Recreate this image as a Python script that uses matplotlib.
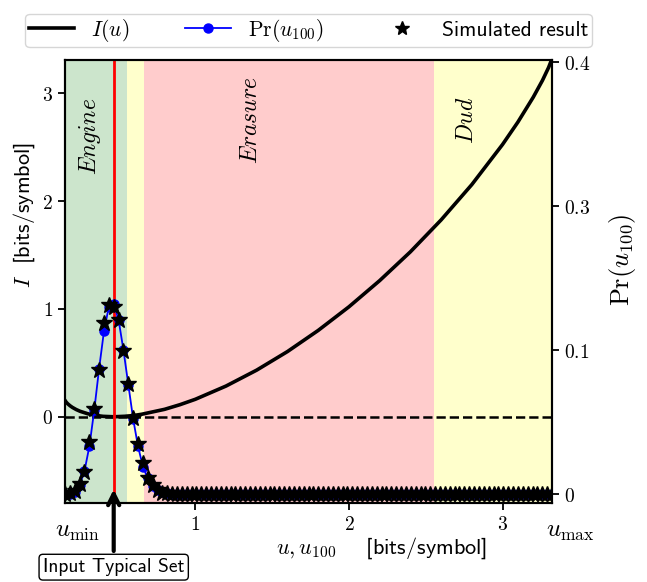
import numpy as np
import matplotlib
matplotlib.use("Agg")
import matplotlib.pyplot as plt
from matplotlib.lines import Line2D
from matplotlib.ticker import FixedLocator, FixedFormatter

plt.rcParams['mathtext.fontset'] = 'cm'
SANS = 'cmss10'

# range of u (bits/symbol) and the entropy marker
u_min = 0.152
u_max = 3.322
u_H = 0.469

# region borders along u
engine_end = 0.555
gap_end = 0.663
erasure_end = 2.553

# I(u)
u_curve = [0.152, 0.16, 0.17, 0.185, 0.2, 0.225, 0.25, 0.3, 0.35, 0.4, 0.469,
           0.55, 0.6, 0.65, 0.8, 0.9, 1.0, 1.2, 1.4, 1.6, 1.8, 2.0, 2.2, 2.4,
           2.6, 2.8, 3.0, 3.1, 3.2, 3.26, 3.3, 3.322]
I_curve = [0.152, 0.135, 0.120, 0.102, 0.087, 0.067, 0.051, 0.028, 0.013, 0.004, 0.0,
           0.005, 0.012, 0.023, 0.069, 0.112, 0.162, 0.285, 0.433, 0.605, 0.801, 1.020,
           1.263, 1.530, 1.826, 2.154, 2.526, 2.734, 2.965, 3.121, 3.241, 3.322]

# Pr(u_100): 101 evenly spaced values of u_100, only the first ones are non-zero
n_pts = 101
pr_head = [0.0, 0.0003, 0.0016, 0.006, 0.016, 0.033, 0.058, 0.087, 0.113, 0.130, 0.132,
           0.121, 0.100, 0.076, 0.052, 0.033, 0.019, 0.011, 0.0055, 0.0026, 0.0012,
           0.0005, 0.0002]
sim_head = [0.0, 0.001, 0.002, 0.007, 0.015, 0.036, 0.059, 0.086, 0.119, 0.131, 0.130,
            0.121, 0.0995, 0.0764, 0.0526, 0.0347, 0.0213, 0.0109, 0.006, 0.003, 0.001,
            0.0005, 0.0]

u100 = np.linspace(u_min, u_max, n_pts)
pr = pr_head + [0.0] * (n_pts - len(pr_head))
sim = sim_head + [0.0] * (n_pts - len(sim_head))

# right axis tick positions and the labels printed on them
pr_ticks = [0.0, 0.1, 0.2, 0.3]
pr_ticklabels = ['$0$', '$0.1$', '$0.3$', '$0.4$']

fig = plt.figure(figsize=(6.47, 5.82), dpi=100)
ax = fig.add_axes([65/647, 79/582, 487/647, 443/582])
ax2 = ax.twinx()

ax.axvspan(u_min, engine_end, color='g', alpha=0.2, lw=0)
ax.axvspan(engine_end, gap_end, color='yellow', alpha=0.2, lw=0)
ax.axvspan(gap_end, erasure_end, color='red', alpha=0.2, lw=0)
ax.axvspan(erasure_end, u_max, color='yellow', alpha=0.2, lw=0)

ax.plot(u_curve, I_curve, color='black', lw=2.6)
ax.axhline(0, color='black', lw=1.8, ls='--')
ax.axvline(u_H, color='red', lw=2)

ax.text(0.316, 2.6, '$Engine$', rotation=90, fontsize=17, ha='center', va='center')
ax.text(1.358, 2.75, '$Erasure$', rotation=90, fontsize=17, ha='center', va='center')
ax.text(2.759, 2.75, '$Dud$', rotation=90, fontsize=17, ha='center', va='center')

ax2.plot(u100, pr, color='blue', lw=1.3, marker='o', ms=6.5)
ax2.plot(u100, sim, ls='none', marker='*', color='black', ms=12)

ax.set_xlim(u_min, u_max)
ax.set_ylim(-0.80, 3.31)
ax2.set_ylim(-0.00625, 0.3014)

ax.xaxis.set_major_locator(FixedLocator([1, 2, 3]))
ax.xaxis.set_major_formatter(FixedFormatter(['$1$', '$2$', '$3$']))
ax.yaxis.set_major_locator(FixedLocator([0, 1, 2, 3]))
ax.yaxis.set_major_formatter(FixedFormatter(['$0$', '$1$', '$2$', '$3$']))
ax2.yaxis.set_major_locator(FixedLocator(pr_ticks))
ax2.yaxis.set_major_formatter(FixedFormatter(pr_ticklabels))
ax.tick_params(labelsize=14, width=1.3, length=5)
ax2.tick_params(labelsize=14, width=1.3, length=5)
for a in (ax, ax2):
    for s in a.spines.values():
        s.set_linewidth(1.5)

xt = ax.get_xaxis_transform()
ax.text(u_min + 0.08, -0.035, r'$u_{\min}$', transform=xt, fontsize=18, ha='center', va='top')
ax.text(u_max + 0.12, -0.035, r'$u_{\max}$', transform=xt, fontsize=18, ha='center', va='top')

ax.set_xlabel(r'$u, u_{100}$    [bits/symbol]', fontsize=16, family=SANS)
ax.xaxis.set_label_coords(0.651, -0.072)
ax.set_ylabel(r'$I$  [bits/symbol]', fontsize=16, family=SANS)
ax.yaxis.set_label_coords(-0.057, 0.65)
ax2.text(1.144, 0.55, r'$\Pr(u_{100})$', transform=ax2.transAxes, rotation=90,
         fontsize=19, ha='center', va='center')

ax.annotate('Input Typical Set', xy=(u_H, -0.648), xytext=(0, -58), textcoords='offset points',
            ha='center', va='center', fontsize=14, family=SANS, annotation_clip=False,
            bbox=dict(boxstyle='round,pad=0.2', fc='white', ec='black', lw=1),
            arrowprops=dict(arrowstyle='->', color='black', lw=3, mutation_scale=20))

handles = [Line2D([], [], color='black', lw=2.6),
           Line2D([], [], color='blue', lw=1.3, marker='o', ms=6.5),
           Line2D([], [], color='black', ls='none', marker='*', ms=10)]
labels = ['$I(u)$', r'$\Pr(u_{100})$', 'Simulated result']
ax2.legend(handles, labels, loc='lower center', bbox_to_anchor=(0.5, 1.029), ncol=3,
           borderaxespad=0, prop={'family': SANS, 'size': 15.5}, columnspacing=2.6,
           handlelength=2.1, borderpad=0.15)

fig.savefig('out.png', dpi=100)
